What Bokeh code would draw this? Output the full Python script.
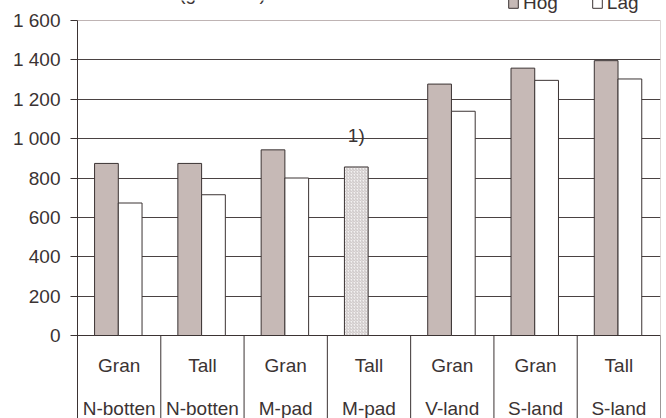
from bokeh.plotting import figure
from bokeh.models import (ColumnDataSource, FixedTicker, Legend, LegendItem,
                          Label, Range1d)
from bokeh.core.properties import value
from bokeh.embed import file_html
from bokeh.resources import INLINE

# Temperature sum per stand type and region, high vs low
species = ["Gran", "Tall", "Gran", "Tall", "Gran", "Gran", "Tall"]
regions = ["N-botten", "N-botten", "M-pad", "M-pad", "V-land", "S-land", "S-land"]
hog = [874, 874, 943, None, 1277, 1358, 1396]
lag = [673, 715, 800, None, 1139, 1296, 1303]
special_index = 3
special_value = 856
special_note = "1)"
y_ticks = [0, 200, 400, 600, 800, 1000, 1200, 1400, 1600]
y_tick_labels = ["0", "200", "400", "600", "800", "1 000", "1 200", "1 400", "1 600"]
title_text = "Temperatursumma (grader C)"

FONT = "Liberation Sans"
FS = "19px"
INK = "#3b3333"
GRID = "#4a4242"
LIGHT = "#bfb4b4"
GRAY_FILL = "#c6b9b6"

n = len(species)
px_per_unit = 315 / 1600.0
y_min = -83 / px_per_unit
y_max = 1600 + 20 / px_per_unit
bw = 0.285

idx_h = [i for i in range(n) if hog[i] is not None]
idx_l = [i for i in range(n) if lag[i] is not None]
src_h = ColumnDataSource(dict(x=[i + 0.49 - bw / 2 for i in idx_h], top=[hog[i] for i in idx_h]))
src_l = ColumnDataSource(dict(x=[i + 0.49 + bw / 2 for i in idx_l], top=[lag[i] for i in idx_l]))

p = figure(width=666, height=418, output_backend="svg", toolbar_location=None,
           x_range=Range1d(0, n), y_range=Range1d(y_min, y_max),
           x_axis_location=None, min_border_left=77, min_border_right=6,
           min_border_top=0, min_border_bottom=0)
p.outline_line_color = None
p.background_fill_color = "white"
p.border_fill_color = "white"
p.xgrid.visible = False

# horizontal gridlines
p.ygrid.ticker = FixedTicker(ticks=y_ticks[1:-1])
p.ygrid.grid_line_color = GRID
p.ygrid.grid_line_width = 1

# y axis, its line running from the table bottom up to the top value
ax = p.yaxis[0]
ax.ticker = FixedTicker(ticks=y_ticks)
ax.bounds = (y_min, 1600)
ax.major_label_overrides = {t: s for t, s in zip(y_ticks, y_tick_labels)}
ax.minor_tick_line_color = None
ax.major_tick_out = 7
ax.major_tick_in = 0
ax.major_label_standoff = 10
ax.axis_line_color = INK
ax.major_tick_line_color = INK
ax.major_label_text_font = FONT
ax.major_label_text_font_size = FS
ax.major_label_text_color = INK

# plot-area border (top and right)
p.segment(x0=[0, n], y0=[1600, 0], x1=[n, n], y1=[1600, 1600], line_color=LIGHT, line_width=1)

# category axis line and table separators
p.segment(x0=[0], y0=[0], x1=[n], y1=[0], line_color=INK, line_width=1)
p.segment(x0=list(range(1, n + 1)), y0=[0] * n, x1=list(range(1, n + 1)), y1=[y_min] * n,
          line_color=INK, line_width=1)

rh = p.vbar(x="x", top="top", bottom=0, width=bw, source=src_h,
            fill_color=GRAY_FILL, line_color=INK, line_width=1)
rl = p.vbar(x="x", top="top", bottom=0, width=bw, source=src_l,
            fill_color="white", line_color=INK, line_width=1)

# hatched bar for the special case
p.vbar(x=[special_index + 0.49 - bw / 2], top=[special_value], bottom=0, width=bw,
       fill_color="#f3f1f1", line_color=INK, line_width=1,
       hatch_pattern="/", hatch_scale=3, hatch_color="#b8afaf", hatch_weight=0.7)
p.text(x=[special_index + 0.49 - bw / 2], y=[1015], text=[special_note],
       text_font=value(FONT), text_font_size=FS, text_color=INK,
       text_align="center", text_baseline="middle")

# table labels under the axis
xs = [i + 0.5 for i in range(n)]
p.text(x=xs, y=[-152] * n, text=species, text_font=value(FONT), text_font_size=FS,
       text_color=INK, text_align="center", text_baseline="middle")
p.text(x=xs, y=[-372] * n, text=regions, text_font=value(FONT), text_font_size=FS,
       text_color=INK, text_align="center", text_baseline="middle")

legend = Legend(items=[LegendItem(label="Hög", renderers=[rh]),
                       LegendItem(label="Låg", renderers=[rl])],
                orientation="horizontal", location=(430, 404),
                glyph_width=12, glyph_height=12, label_standoff=4, spacing=33,
                padding=0, margin=0, border_line_color=None,
                background_fill_alpha=0,
                label_text_font=FONT, label_text_font_size=FS,
                label_text_color=INK, label_height=22)
p.add_layout(legend, "center")

title = Label(x=-62, y=425, x_units="screen", y_units="screen", text=title_text,
              text_font=FONT, text_font_size=FS, text_color=INK,
              text_baseline="alphabetic", level="overlay")
p.add_layout(title)

open("out.html", "w").write(file_html(p, INLINE))
